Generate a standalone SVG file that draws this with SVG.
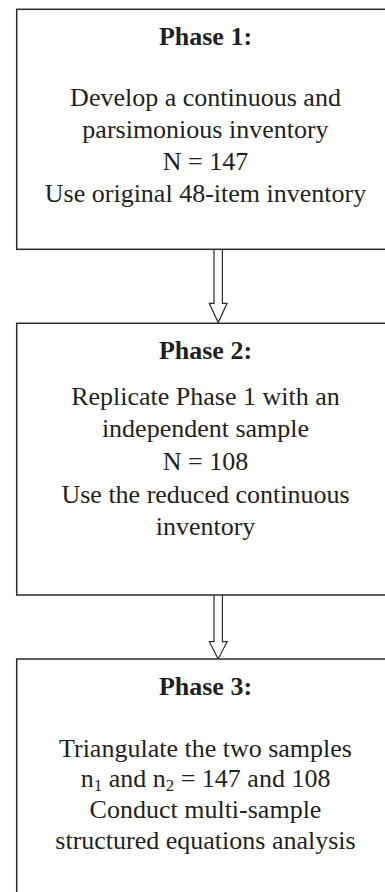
<svg xmlns="http://www.w3.org/2000/svg" width="385" height="892" viewBox="0 0 385 892">
<style>
.box{fill:#ffffff;stroke:#2a2a2a;stroke-width:1.5}
.arr{fill:#ffffff;stroke:#2a2a2a;stroke-width:1.2;stroke-linejoin:miter}
text{font-family:"Liberation Serif","Times New Roman",serif;fill:#231f20;text-anchor:middle}
.t{font-weight:bold;font-size:26px}
.b{font-size:26px}
.sub{font-size:17px}
</style>
<rect width="385" height="892" fill="#ffffff"/>
<g id="connectors">
<path class="arr" d="M214,249.3 V303.3 H209.3 L218.2,322.5 L227.1,303.3 H222.4 V249.3"/>
<path class="arr" d="M214,595 V641.7 H209.3 L218.2,659 L227.1,641.7 H222.4 V595"/>
</g>
<g id="phase1">
<rect class="box" x="16.7" y="9.3" width="377" height="240"/>
<text class="t" x="205.5" y="45">Phase 1:</text>
<text class="b" x="205.5" y="106">Develop a continuous and</text>
<text class="b" x="205.5" y="137.5">parsimonious inventory</text>
<text class="b" x="205.5" y="170">N = 147</text>
<text class="b" x="205.5" y="201.5">Use original 48-item inventory</text>
</g>
<g id="phase2">
<rect class="box" x="16.7" y="323.3" width="377" height="271.7"/>
<text class="t" x="205.5" y="358.5">Phase 2:</text>
<text class="b" x="205.5" y="405">Replicate Phase 1 with an</text>
<text class="b" x="205.5" y="437">independent sample</text>
<text class="b" x="205.5" y="470">N = 108</text>
<text class="b" x="205.5" y="503">Use the reduced continuous</text>
<text class="b" x="205.5" y="535">inventory</text>
</g>
<g id="phase3">
<rect class="box" x="16.7" y="659" width="377" height="260"/>
<text class="t" x="205.5" y="695">Phase 3:</text>
<text class="b" x="205.5" y="756.5">Triangulate the two samples</text>
<text class="b" x="205.5" y="787">n<tspan class="sub" dy="4">1</tspan><tspan dy="-4"> and n</tspan><tspan class="sub" dy="4">2</tspan><tspan dy="-4"> = 147 and 108</tspan></text>
<text class="b" x="205.5" y="818">Conduct multi-sample</text>
<text class="b" x="205.5" y="849">structured equations analysis</text>
</g>
</svg>
